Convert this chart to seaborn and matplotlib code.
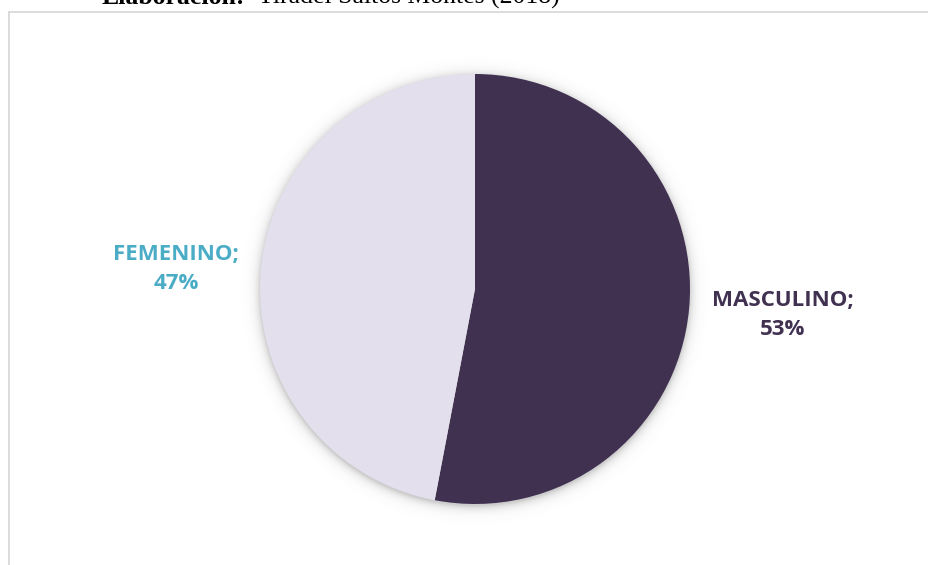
import numpy as np
import matplotlib
matplotlib.use("Agg")
import matplotlib.pyplot as plt
from matplotlib.lines import Line2D
import seaborn as sns

categories = ["MASCULINO", "FEMENINO"]
shares = [53, 47]
slice_colors = ["#403151", "#E4DFEC"]
label_colors = ["#403151", "#4BACC6"]
source_bold = "Elaboración:"
source_text = "Tiradel Saltos Montes (2018)"

sns.set_theme(style="white")
plt.rcParams["font.family"] = ["Open Sans", "DejaVu Sans"]

W, H = 929, 565
fig = plt.figure(figsize=(W / 100, H / 100), dpi=100)
fig.patch.set_facecolor("white")
ax = fig.add_axes([0, 0, 1, 1])

cx, cy, r = 475, H - 289, 215

# soft drop shadow under the pie
pad = 22
xs = np.arange(cx - r - pad, cx + r + pad + 1)
ys = np.arange(cy - r - pad, cy + r + pad + 1)
X, Y = np.meshgrid(xs, ys)
d = np.hypot(X - cx, Y - (cy - 2))
alpha = 0.30 * np.exp(-np.clip(d - r, 0, None) / 4.5)
rgba = np.zeros(X.shape + (4,))
rgba[..., :3] = 0.35
rgba[..., 3] = alpha
ax.imshow(rgba, extent=(xs[0], xs[-1], ys[0], ys[-1]), origin="lower",
          zorder=1, interpolation="bilinear")

wedges, _ = ax.pie(shares, colors=slice_colors, startangle=90, counterclock=False,
                   center=(cx, cy), radius=r, frame=True,
                   wedgeprops=dict(linewidth=0, zorder=2))
for w in wedges:
    w.set_zorder(2)

ax.set_xlim(0, W)
ax.set_ylim(0, H)
ax.set_aspect("auto")
ax.axis("off")

# category labels
label_pos = {"MASCULINO": (783, H - 315), "FEMENINO": (176, H - 269)}
for cat, val, col in zip(categories, shares, label_colors):
    x, y = label_pos[cat]
    ax.text(x, y, f"{cat};\n{val}%", ha="center", va="center", multialignment="center",
            fontsize=16, fontweight="bold", color=col, linespacing=1.45, zorder=3)

# chart frame (left and top edges)
frame_col = "#D9D9D9"
fig.add_artist(Line2D([9 / W, 9 / W], [0, (H - 12) / H], color=frame_col, lw=1.3,
                      transform=fig.transFigure))
fig.add_artist(Line2D([9 / W, 1], [(H - 12) / H, (H - 12) / H], color=frame_col, lw=1.3,
                      transform=fig.transFigure))

# source line above the chart
t1 = fig.text(102 / W, (H - 4) / H, source_bold, ha="left", va="baseline",
              family="Liberation Serif", fontweight="bold", fontsize=18.5, color="black")
fig.canvas.draw()
bb = t1.get_window_extent()
fig.text((bb.x1 + 13) / W, (H - 4) / H, source_text, ha="left", va="baseline",
         family="Liberation Serif", fontsize=18.5, color="black")

fig.savefig("out.png", dpi=100, facecolor="white")
